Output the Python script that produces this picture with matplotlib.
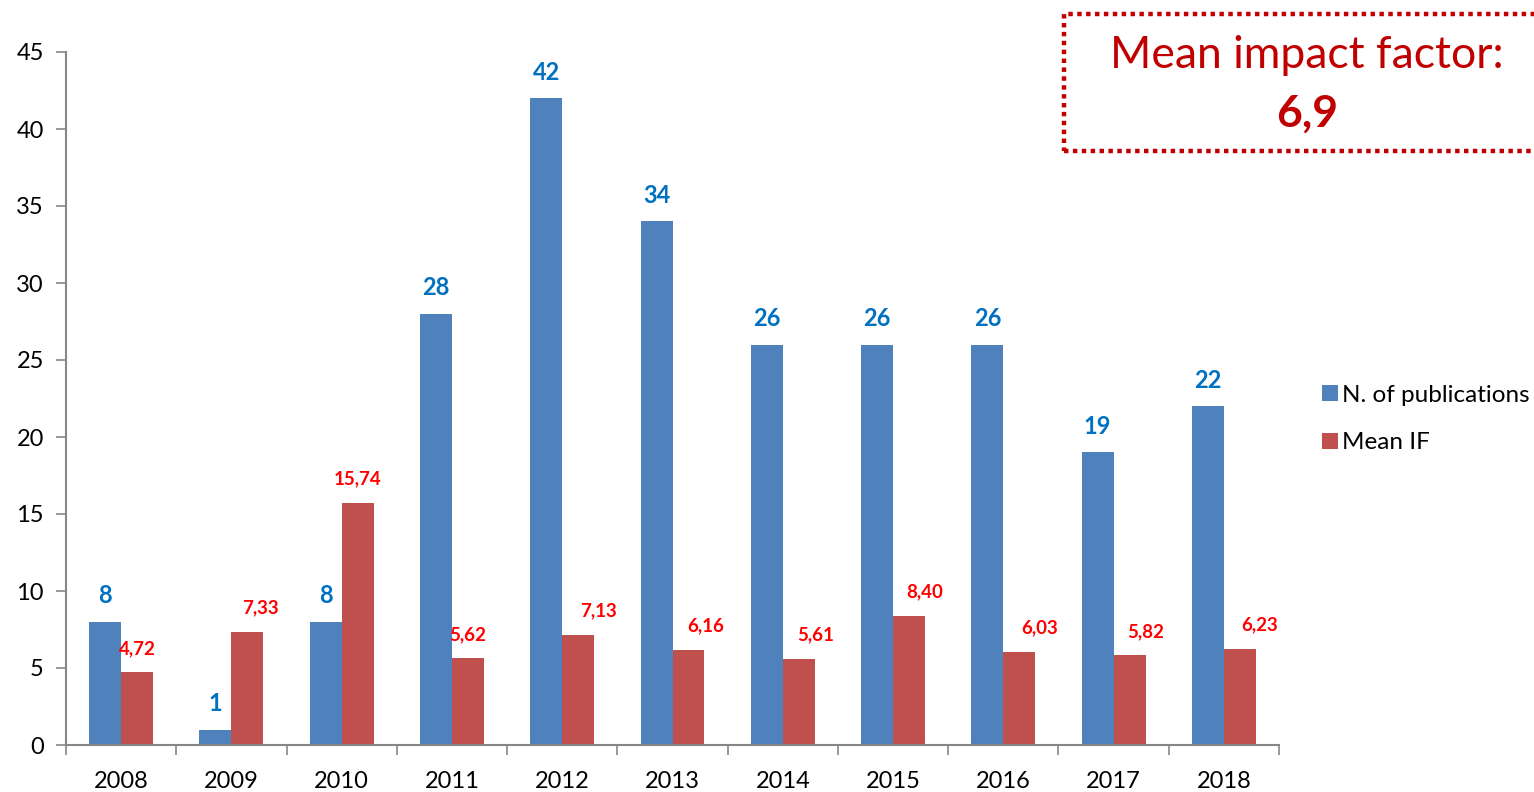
import numpy as np
import matplotlib.pyplot as plt
from matplotlib.patches import Rectangle

plt.rcParams['font.family'] = ['Lato', 'DejaVu Sans']

years = ['2008', '2009', '2010', '2011', '2012', '2013', '2014', '2015', '2016', '2017', '2018']
n_pubs = [8, 1, 8, 28, 42, 34, 26, 26, 26, 19, 22]
mean_if = [4.72, 7.33, 15.74, 5.62, 7.13, 6.16, 5.61, 8.40, 6.03, 5.82, 6.23]
mean_total = '6,9'

# labels of the red bars were nudged right by hand in the original
if_label_dx = [0, 13, 0, 0, 20, 17, 17, 16, 20, 16, 20]

blue = '#4F81BD'
red = '#C0504D'
axis_gray = '#868686'

fig = plt.figure(figsize=(15.34, 7.92), dpi=100)
ax = fig.add_axes([66/1534, 47/792, (1279-66)/1534, (745-52)/792])

x = np.arange(len(years))
w = 0.29
b1 = ax.bar(x - w/2, n_pubs, w, color=blue, label='N. of publications')
b2 = ax.bar(x + w/2, mean_if, w, color=red, label='Mean IF')

for xi, v in zip(x, n_pubs):
    ax.annotate(str(v), (xi - w/2, v), xytext=(0, 26), textcoords='offset pixels',
                ha='center', va='center', color='#0070C0', fontsize=17, fontweight='bold')
for xi, v, dx in zip(x, mean_if, if_label_dx):
    ax.annotate(f'{v:.2f}'.replace('.', ','), (xi + w/2, v), xytext=(dx, 24),
                textcoords='offset pixels', ha='center', va='center',
                color='#FF0000', fontsize=13.5, fontweight='bold')

ax.set_xlim(-0.5, len(years) - 0.5)
ax.set_ylim(0, 45)
ax.set_yticks(np.arange(0, 46, 5))
ax.set_xticks(x)
ax.set_xticklabels(years)
ax.set_xticks(np.arange(-0.5, len(years), 1), minor=True)
ax.tick_params(axis='x', which='major', length=0, pad=19, labelsize=17)
ax.tick_params(axis='x', which='minor', length=7, color=axis_gray, width=1.2)
ax.tick_params(axis='y', length=7, color=axis_gray, width=1.2, pad=9, labelsize=17)

for s in ['top', 'right']:
    ax.spines[s].set_visible(False)
for s in ['left', 'bottom']:
    ax.spines[s].set_color(axis_gray)
    ax.spines[s].set_linewidth(1.5)

fig.legend(handles=[b1, b2], loc='upper left', bbox_to_anchor=(1312/1534, 1 - 375/792),
           frameon=False, fontsize=17.5, handlelength=0.65, handleheight=0.65,
           handletextpad=0.2, labelspacing=1.1, borderaxespad=0)

box = Rectangle((1064/1534, 1 - 151/792), 0.5, 137/792, transform=fig.transFigure,
                fill=False, edgecolor='#C00000', linewidth=3.2, linestyle=(0, (1, 1)),
                clip_on=False)
fig.patches.append(box)
fig.text(1307/1534, 1 - 56/792, 'Mean impact factor:', ha='center', va='center',
         color='#C00000', fontsize=32)
fig.text(1307/1534, 1 - 114/792, mean_total, ha='center', va='center',
         color='#C00000', fontsize=32, fontweight='bold')

fig.savefig('out.png', dpi=100)
